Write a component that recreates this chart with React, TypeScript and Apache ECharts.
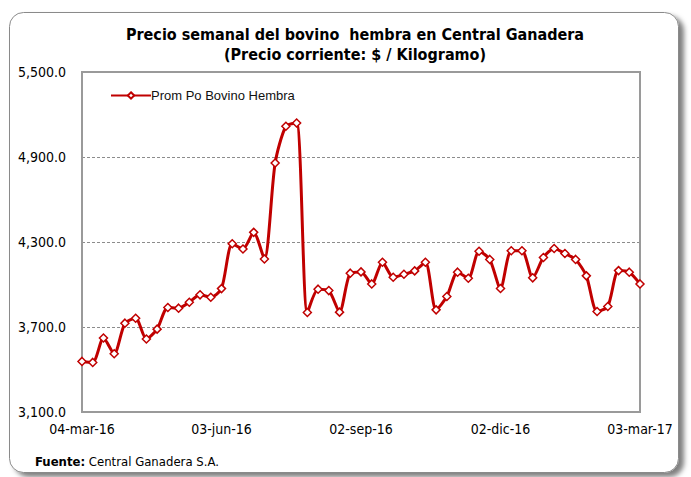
import React, { useEffect, useRef } from "react";
import * as echarts from "echarts";

const seriesName = "Prom Po Bovino Hembra";
const startDate = "2016-03-04";
const prices = [
  3457, 3450, 3622, 3511, 3727, 3762, 3615, 3685, 3838, 3833,
  3875, 3927, 3910, 3971, 4288, 4251, 4368, 4180, 4858, 5117,
  5140, 3802, 3967, 3957, 3805, 4080, 4089, 4004, 4157, 4051,
  4072, 4096, 4157, 3821, 3915, 4087, 4044, 4235, 4177, 3972,
  4238, 4238, 4047, 4191, 4254, 4219, 4177, 4061, 3809, 3845,
  4098, 4087, 4004,
];
const monthsEs = ["ene", "feb", "mar", "abr", "may", "jun", "jul", "ago", "sep", "oct", "nov", "dic"];
const yTicks = [3100, 3700, 4300, 4900, 5500];

function weekLabels(start: string, n: number): string[] {
  const d0 = new Date(start + "T00:00:00Z");
  const out: string[] = [];
  for (let i = 0; i < n; i++) {
    const d = new Date(d0.getTime() + i * 7 * 86400000);
    const dd = String(d.getUTCDate()).padStart(2, "0");
    const yy = String(d.getUTCFullYear()).slice(2);
    out.push(`${dd}-${monthsEs[d.getUTCMonth()]}-${yy}`);
  }
  return out;
}

const categories = weekLabels(startDate, prices.length);

const NARROW = '"Liberation Sans Narrow", "Arial Narrow", "DejaVu Sans Condensed", "Liberation Sans", sans-serif';

export default function App() {
  const ref = useRef<HTMLDivElement>(null);
  useEffect(() => {
    if (!ref.current) return;
    const chart = echarts.init(ref.current, null, { renderer: "svg" });
    const gl = 82, gt = 72, gw = 558, gh = 340;
    chart.setOption({
      animation: false,
      backgroundColor: "#ffffff",
      title: {
        text: "Precio semanal del bovino  hembra en Central Ganadera\n(Precio corriente: $ / Kilogramo)",
        left: 350,
        textAlign: "center",
        top: 19,
        textStyle: {
          fontFamily: NARROW,
          fontWeight: "bold",
          fontSize: 16,
          lineHeight: 20,
          color: "#000",
        },
      },
      legend: {
        left: 105,
        top: 84,
        itemWidth: 40,
        itemHeight: 8,
        itemGap: 4,
        textStyle: { fontFamily: '"Liberation Sans", Arial, sans-serif', fontSize: 13, color: "#111", padding: [0, 0, 0, -5] },
        data: [seriesName],
      },
      grid: { left: gl, top: gt, width: gw, height: gh, containLabel: false },
      xAxis: {
        type: "category",
        data: categories,
        boundaryGap: false,
        axisLine: { show: false },
        axisTick: { show: false },
        axisLabel: {
          interval: 12,
          margin: 10,
          fontFamily: NARROW,
          fontSize: 14,
          color: "#000",
        },
        splitLine: { show: false },
      },
      yAxis: {
        type: "value",
        min: yTicks[0],
        max: yTicks[yTicks.length - 1],
        interval: yTicks[1] - yTicks[0],
        axisLine: { show: false },
        axisTick: { show: false },
        axisLabel: {
          margin: 16,
          fontFamily: NARROW,
          fontSize: 14,
          color: "#000",
          formatter: (v: number) => v.toLocaleString("en-US", { minimumFractionDigits: 1, maximumFractionDigits: 1 }),
        },
        splitLine: { show: true, lineStyle: { color: "#8c8c8c", type: [3, 2], width: 1 } },
      },
      series: [
        {
          name: seriesName,
          type: "line",
          data: prices,
          smooth: 0.25,
          symbol: "diamond",
          symbolSize: 8,
          showAllSymbol: true,
          lineStyle: { color: "#c00000", width: 3 },
          itemStyle: { color: "#ffffff", borderColor: "#c00000", borderWidth: 1.5 },
          z: 3,
        },
      ],
      graphic: [
        {
          type: "rect",
          left: 9,
          top: 12,
          shape: { width: 669, height: 460, r: 14 },
          style: {
            fill: "#ffffff",
            stroke: "#8a8a8a",
            lineWidth: 1,
            shadowBlur: 5,
            shadowOffsetX: 5,
            shadowOffsetY: 4,
            shadowColor: "rgba(0,0,0,0.5)",
          },
          z: -10,
          silent: true,
        },
        {
          type: "rect",
          shape: { x: gl, y: gt, width: gw, height: gh },
          style: { fill: "none", stroke: "#9a9a9a", lineWidth: 2 },
          z: 1,
          silent: true,
        },
        {
          type: "text",
          left: 35,
          top: 455,
          style: {
            text: "{b|Fuente:} Central Ganadera S.A.",
            rich: {
              b: { fontFamily: NARROW, fontWeight: "bold", fontSize: 13, fill: "#000" },
            },
            fontFamily: NARROW,
            fontSize: 13,
            fill: "#000",
          },
        },
      ],
    });
    return () => chart.dispose();
  }, []);
  return (
    <div
      ref={ref}
      style={{ position: "fixed", left: 0, top: 0, width: 691, height: 477, background: "#fff" }}
    />
  );
}
